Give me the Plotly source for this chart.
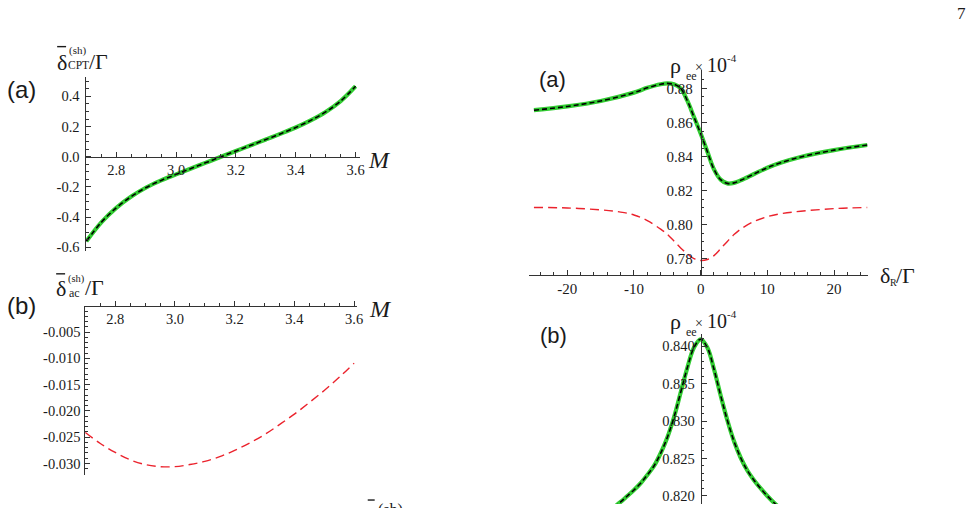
import plotly.graph_objects as go

W, H = 978, 508

# ---------------- data ----------------
# left (a): CPT shift vs M
M_cpt = [2.70, 2.75, 2.80, 2.85, 2.90, 2.95, 3.00, 3.05, 3.10, 3.15,
         3.20, 3.25, 3.30, 3.35, 3.40, 3.45, 3.50, 3.55, 3.60]
shift_cpt = [-0.560, -0.435, -0.339, -0.264, -0.204, -0.157, -0.117, -0.078, -0.039, 0.000,
             0.038, 0.076, 0.114, 0.153, 0.194, 0.241, 0.297, 0.369, 0.467]

# left (b): ac shift vs M
M_ac = [2.70, 2.75, 2.80, 2.85, 2.90, 2.95, 3.00, 3.05, 3.10, 3.15,
        3.20, 3.25, 3.30, 3.35, 3.40, 3.45, 3.50, 3.55, 3.60]
shift_ac = [-0.0241, -0.0262, -0.0279, -0.0293, -0.0302, -0.0306, -0.0306, -0.0302, -0.0296, -0.0287,
            -0.0275, -0.0261, -0.0245, -0.0226, -0.0206, -0.0184, -0.0161, -0.0136, -0.0109]

# right (a): rho_ee vs delta_R
delta_a = [-25, -20, -15, -10, -8, -6, -5, -4, -3, -2, -1, 0, 1, 2, 3, 4, 5, 6, 8, 10, 12, 15, 20, 25]
rho_a_full = [0.8672, 0.8694, 0.8726, 0.8775, 0.8803, 0.8824, 0.8829, 0.8824, 0.8800, 0.8728,
              0.8632, 0.8535, 0.8430, 0.8325, 0.8265, 0.8243, 0.8246, 0.8261, 0.8298, 0.8335,
              0.8364, 0.8398, 0.8438, 0.8468]
delta_a_red = [-25, -20, -15, -12, -10, -8, -6, -5, -4, -3, -2, -1, 0, 1, 2, 3, 4, 5, 6, 8, 10, 12, 15, 20, 25]
rho_a_red = [0.8102, 0.8099, 0.8088, 0.8075, 0.8058, 0.8025, 0.7975, 0.7945, 0.7905, 0.7865,
             0.7830, 0.7802, 0.7791, 0.7797, 0.7820, 0.7860, 0.7903, 0.7943, 0.7975, 0.8020,
             0.8048, 0.8065, 0.8080, 0.8095, 0.8102]

# right (b): rho_ee vs delta_R
delta_b = [-14, -12, -11, -10, -9, -8, -7, -6, -5, -4, -3, -2, -1, 0,
           1, 2, 3, 4, 5, 6, 7, 8, 9, 10, 11, 12, 14]
rho_b = [0.8178, 0.8192, 0.8200, 0.8208, 0.8217, 0.8228, 0.8240, 0.8257, 0.8278, 0.8305,
         0.8338, 0.8371, 0.8398, 0.8409,
         0.8398, 0.8369, 0.8334, 0.8301, 0.8273, 0.8251, 0.8234, 0.8221, 0.8210, 0.8200,
         0.8191, 0.8183, 0.8170]

# tick labels
la_xticks = [2.8, 3.0, 3.2, 3.4, 3.6]
la_xtext = ["2.8", "3.0", "3.2", "3.4", "3.6"]
la_yticks = [-0.6, -0.4, -0.2, 0.0, 0.2, 0.4]
la_ytext = ["-0.6", "-0.4", "-0.2", "0.0", "0.2", "0.4"]
lb_yticks = [-0.030, -0.025, -0.020, -0.015, -0.010, -0.005]
lb_ytext = ["-0.030", "-0.025", "-0.020", "-0.015", "-0.010", "-0.005"]
ra_xticks = [-20, -10, 0, 10, 20]
ra_xtext = ["-20", "-10", "0", "10", "20"]
ra_yticks = [0.78, 0.80, 0.82, 0.84, 0.86, 0.88]
ra_ytext = ["0.78", "0.80", "0.82", "0.84", "0.86", "0.88"]
rb_yticks = [0.820, 0.825, 0.830, 0.835, 0.840]
rb_ytext = ["0.820", "0.825", "0.830", "0.835", "0.840"]

# ---------------- helpers (pixel -> paper) ----------------
def fx(px):
    return px / W

def fy(py):
    return (H - py) / H

def xd(p0, p1):
    return [fx(p0), fx(p1)]

def yd(top, bot):
    return [fy(bot), fy(top)]

def at(dom, rng, v):
    return dom[0] + (v - rng[0]) / (rng[1] - rng[0]) * (dom[1] - dom[0])

AX = '#333333'
SERIF = 'Liberation Serif, Times New Roman, serif'
SANS = 'Liberation Sans, Arial, sans-serif'
TF = dict(family=SERIF, size=14.5, color='#1a1a1a')

def axis(dom, rng, tv, tt, mdt, mt0, **kw):
    d = dict(domain=dom, range=rng, showgrid=False, zeroline=False, showline=True,
             linecolor=AX, linewidth=1, ticks='inside', ticklen=5, tickwidth=1,
             tickcolor=AX, tickfont=TF, tickmode='array', tickvals=tv, ticktext=tt,
             minor=dict(ticks='inside', ticklen=2.5, tickwidth=1, tickcolor=AX,
                        showgrid=False, tickmode='linear', dtick=mdt, tick0=mt0),
             fixedrange=True)
    d.update(kw)
    return d

# domains / ranges
la_xd, la_xr = xd(86, 362), [2.697, 3.614]
la_yd, la_yr = yd(78, 253), [-0.625, 0.526]
lb_xd, lb_xr = xd(85, 359), [2.697, 3.609]
lb_yd, lb_yr = yd(308.3, 478.3), [-0.0321, 0.0]
r_xd, r_xr = xd(532, 873), [-25.78, 25.04]
ra_yd, ra_yr = yd(71, 276.7), [0.7709, 0.8905]
rb_yd, rb_yr = yd(336.7, 508), [0.81893, 0.8416]

GREEN = 'rgb(50,205,50)'
RED = 'rgb(235,35,45)'

fig = go.Figure()

def green_black(x, y, xa, ya):
    fig.add_trace(go.Scatter(x=x, y=y, xaxis=xa, yaxis=ya, mode='lines',
                             line=dict(color=GREEN, width=4.2, shape='spline', smoothing=1.0),
                             showlegend=False, hoverinfo='skip'))
    fig.add_trace(go.Scatter(x=x, y=y, xaxis=xa, yaxis=ya, mode='lines',
                             line=dict(color='black', width=1.6, dash='5px,3px', shape='spline', smoothing=1.0),
                             showlegend=False, hoverinfo='skip'))

def red(x, y, xa, ya):
    fig.add_trace(go.Scatter(x=x, y=y, xaxis=xa, yaxis=ya, mode='lines',
                             line=dict(color=RED, width=1.4, dash='9px,5px', shape='spline', smoothing=1.0),
                             showlegend=False, hoverinfo='skip'))

green_black(M_cpt, shift_cpt, 'x', 'y')
red(M_ac, shift_ac, 'x2', 'y2')
green_black(delta_a, rho_a_full, 'x3', 'y3')
red(delta_a_red, rho_a_red, 'x3', 'y3')
green_black(delta_b, rho_b, 'x4', 'y4')

RTF = dict(family=SERIF, size=15, color='#1a1a1a')
layout = dict(
    width=W, height=H, margin=dict(l=0, r=0, t=0, b=0),
    paper_bgcolor='white', plot_bgcolor='rgba(0,0,0,0)', showlegend=False,
    xaxis=axis(la_xd, la_xr, la_xticks, la_xtext, 0.05, 2.7, anchor='free',
               position=at(la_yd, la_yr, 0.0)),
    yaxis=axis(la_yd, la_yr, la_yticks, la_ytext, 0.05, 0.0, anchor='free',
               position=la_xd[0], ticklabelstandoff=3),
    xaxis2=axis(lb_xd, lb_xr, la_xticks, la_xtext, 0.05, 2.7, anchor='free',
                position=lb_yd[1]),
    yaxis2=axis(lb_yd, lb_yr, lb_yticks, lb_ytext, 0.001, 0.0, anchor='free',
                position=lb_xd[0], ticklabelstandoff=1),
    xaxis3=axis(r_xd, r_xr, ra_xticks, ra_xtext, 2, 0, anchor='free',
                position=ra_yd[0], tickfont=RTF),
    yaxis3=axis(ra_yd, ra_yr, ra_yticks, ra_ytext, 0.005, 0.78, anchor='free',
                position=at(r_xd, r_xr, 0.0), ticklabelstandoff=5, tickfont=RTF),
    xaxis4=dict(domain=r_xd, range=r_xr, visible=False, anchor='y4', fixedrange=True),
    yaxis4=axis(rb_yd, rb_yr, rb_yticks, rb_ytext, 0.001, 0.82, anchor='free',
                position=at(r_xd, r_xr, 0.0), ticklabelstandoff=3),
)
fig.update_layout(**layout)

def txt(s, px, py, size, family=SERIF, xa='center', ya='middle'):
    fig.add_annotation(text=s, x=fx(px), y=fy(py), xref='paper', yref='paper',
                       showarrow=False, xanchor=xa, yanchor=ya,
                       font=dict(family=family, size=size, color='#1a1a1a'))

def bar(x0, x1, py):
    fig.add_shape(type='line', xref='paper', yref='paper', x0=fx(x0), x1=fx(x1),
                  y0=fy(py), y1=fy(py), line=dict(color='#1a1a1a', width=1.4))

# page number
txt('7', 967, 14, 17)

# panel labels
txt('(a)', 22, 90, 24, SANS)
txt('(b)', 22, 308, 24, SANS)
txt('(a)', 556, 80, 22, SANS)
txt('(b)', 557, 338, 22, SANS)

# left (a) y label
txt('\u03b4', 62, 63, 22)
bar(57.5, 66.5, 47)
txt('(sh)', 67, 51, 11, xa='left')
txt('CPT', 66.5, 66, 11.5, xa='left')
txt('/\u0393', 88, 62, 22, xa='left')

# left (b) y label
txt('\u03b4', 61, 291, 22)
bar(56.5, 65.5, 276)
txt('(sh)', 66.5, 281, 10.5, xa='left')
txt('ac', 67, 295, 12, xa='left')
txt('/\u0393', 83.5, 290, 22, xa='left')

# x labels M
txt('<i>M</i>', 382, 161, 24)
txt('<i>M</i>', 383, 311, 24)

# rho_ee x 10^-4 labels
for off in (0, 258):
    txt('\u03c1', 672.5, 66 + off, 22, xa='left')
    txt('ee', 688, 77 + off, 12, xa='left')
    txt('\u00d7', 703.5, 68 + off, 14)
    txt('10', 709.5, 66 + off, 20, xa='left')
    txt('-4', 729.5, 58 + off, 11, xa='left')

# right (a) x label
txt('\u03b4', 883, 278, 22, xa='left')
txt('R', 893.5, 285, 10, xa='left')
txt('/\u0393', 899.5, 278, 22, xa='left')

# partially visible caption text at the bottom edge
bar(370, 377, 504)
txt('(sh)', 378, 503, 16, xa='left', ya='top')

# the page body has a default 8px margin; remove it so the figure sits at the window origin
fig.write_html('out.html', config={'displayModeBar': False},
               post_script="document.body.style.margin='0';")
